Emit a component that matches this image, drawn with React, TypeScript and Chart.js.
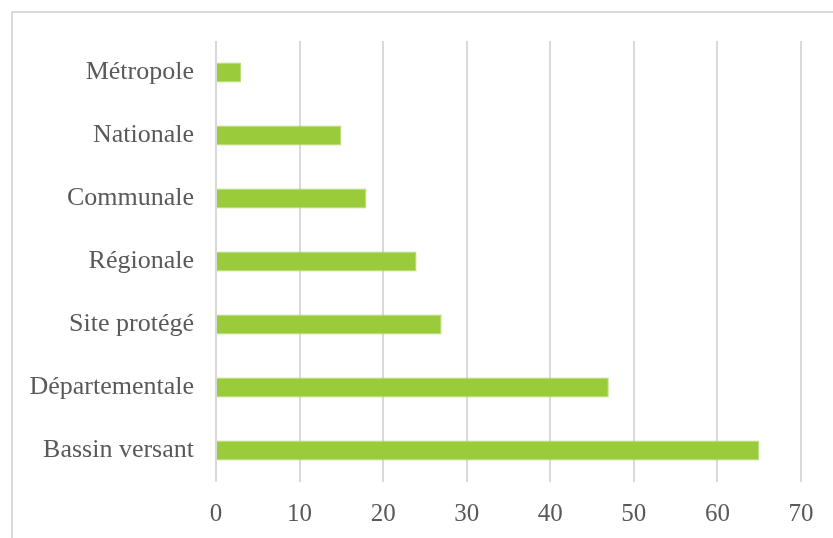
import React, { useEffect, useRef } from "react";
import { Chart, registerables } from "chart.js";

Chart.register(...registerables);

const categories = [
  "Métropole",
  "Nationale",
  "Communale",
  "Régionale",
  "Site protégé",
  "Départementale",
  "Bassin versant",
];
const values = [3, 15, 18, 24, 27, 47, 65];

const FONT = "'Liberation Serif', 'Times New Roman', serif";
const TEXT = "#595959";
const GRID = "#d9d9d9";

export default function App() {
  const ref = useRef<HTMLCanvasElement | null>(null);

  useEffect(() => {
    if (!ref.current) return;
    const chart = new Chart(ref.current, {
      type: "bar",
      data: {
        labels: categories,
        datasets: [
          {
            data: values,
            backgroundColor: "#9acb3a",
            borderColor: "#b9dc7a",
            borderWidth: 1,
            categoryPercentage: 1,
            barPercentage: 0.32,
          },
        ],
      },
      options: {
        indexAxis: "y",
        animation: false,
        responsive: false,
        devicePixelRatio: 1,
        layout: { padding: { top: 41, right: 32, bottom: 0, left: 0 } },
        plugins: { legend: { display: false }, tooltip: { enabled: false } },
        scales: {
          x: {
            min: 0,
            max: 70,
            ticks: {
              stepSize: 10,
              color: TEXT,
              font: { family: FONT, size: 25 },
              padding: 17,
            },
            grid: { color: GRID, lineWidth: 2, drawTicks: false },
            border: { display: false },
            afterFit: (s: any) => {
              s.height = 56;
            },
          },
          y: {
            ticks: {
              color: TEXT,
              font: { family: FONT, size: 26 },
              padding: 22,
            },
            grid: { display: false, drawTicks: false },
            border: { display: false },
            afterFit: (s: any) => {
              s.width = 216;
            },
          },
        },
      },
    });
    return () => chart.destroy();
  }, []);

  return (
    <div
      style={{
        position: "fixed",
        left: 0,
        top: 0,
        width: 833,
        height: 538,
        overflow: "hidden",
        background: "#fff",
      }}
    >
      <div
        style={{
          position: "absolute",
          left: 11,
          top: 11,
          width: 900,
          height: 600,
          borderLeft: "2px solid #d9d9d9",
          borderTop: "2px solid #d9d9d9",
        }}
      />
      <canvas
        ref={ref}
        width={833}
        height={538}
        style={{ position: "absolute", left: 0, top: 0 }}
      />
    </div>
  );
}
